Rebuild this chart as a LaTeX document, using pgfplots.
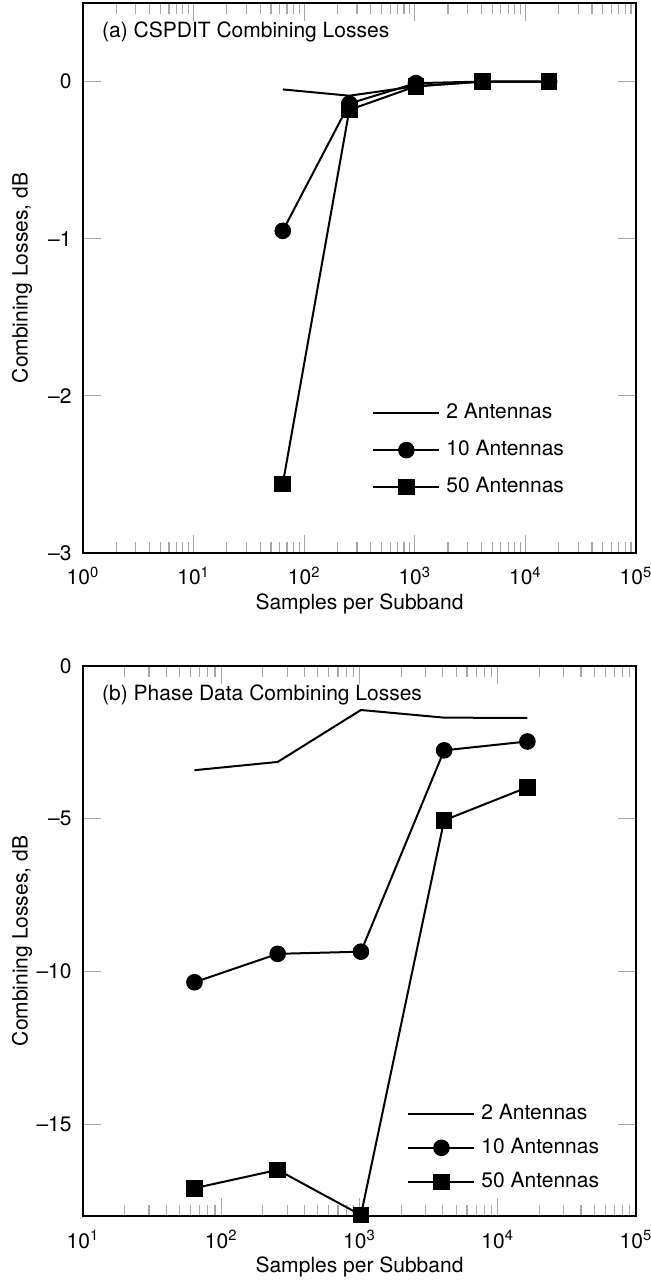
\documentclass[border=0pt]{standalone}
\usepackage{fontspec}
\setmainfont{TeX Gyre Heros}
\usepackage{pgfplots}
\pgfplotsset{compat=1.18}
\begin{document}
\fontsize{10.5}{12.6}\selectfont
\begin{tikzpicture}
\begin{axis}[xmode=log, scale only axis, width=276.5pt, height=275pt,
  at={(0pt,0pt)}, anchor=south west,
  axis line style={line width=1pt},
  tick style={color=gray!70, line width=0.6pt},
  major tick length=9pt, minor tick length=5.5pt,
  tick align=inside,
  xlabel={Samples per Subband},
  ylabel={Combining Losses, dB},
  ylabel style={at={(axis description cs:-0.110,0.5)}, anchor=center},
  xlabel style={at={(axis description cs:0.5,-0.0927)}, anchor=center},
  xticklabel style={anchor=base, yshift=-16pt},
  yticklabel style={xshift=-2pt},
  legend cell align=left,
  legend image code/.code={\draw[mark repeat=2,mark phase=2] plot coordinates {(0pt,0pt) (16.5pt,0pt) (33pt,0pt)};},
  xmin=1, xmax=1e5, ymin=-3, ymax=0.5,
  ytick={-3,-2,-1,0}, yticklabels={–3,–2,–1,0},
  xtick={1,10,100,1000,10000,100000},
  xticklabels={10\textsuperscript{0},10\textsuperscript{1},10\textsuperscript{2},10\textsuperscript{3},10\textsuperscript{4},10\textsuperscript{5}},
  legend style={draw=none, fill=none, inner sep=0pt, column sep=3pt, row sep=8pt,
    nodes={inner sep=0pt, text height=8pt, text depth=2.5pt},
    at={(0.5226,0.187)}, anchor=west}]
\addplot[black, line width=1pt] coordinates {(64,-0.05) (256,-0.09) (1024,-0.03) (4096,0) (16384,0)};
\addlegendentry{2 Antennas}
\addplot[black, line width=1pt, mark=*, mark size=3.9pt, mark options={line width=0.5pt}] coordinates {(64,-0.95) (256,-0.14) (1024,-0.01) (4096,0) (16384,0)};
\addlegendentry{10 Antennas}
\addplot[black, line width=1pt, mark=square*, mark size=3.9pt, mark options={line width=0.5pt}] coordinates {(64,-2.56) (256,-0.18) (1024,-0.03) (4096,0) (16384,0)};
\addlegendentry{50 Antennas}
\node[anchor=west, inner sep=0pt] at (rel axis cs:0.034,0.947) {(a) CSPDIT Combining Losses};
\end{axis}
\begin{axis}[xmode=log, scale only axis, width=276.5pt, height=275pt,
  at={(0pt,-331.5pt)}, anchor=south west,
  axis line style={line width=1pt},
  tick style={color=gray!70, line width=0.6pt},
  major tick length=9pt, minor tick length=5.5pt,
  tick align=inside,
  xlabel={Samples per Subband},
  ylabel={Combining Losses, dB},
  ylabel style={at={(axis description cs:-0.110,0.5)}, anchor=center},
  xlabel style={at={(axis description cs:0.5,-0.0927)}, anchor=center},
  xticklabel style={anchor=base, yshift=-16pt},
  yticklabel style={xshift=-2pt},
  legend cell align=left,
  legend image code/.code={\draw[mark repeat=2,mark phase=2] plot coordinates {(0pt,0pt) (16.5pt,0pt) (33pt,0pt)};},
  xmin=10, xmax=1e5, ymin=-18, ymax=0,
  ytick={-15,-10,-5,0}, yticklabels={–15,–10,–5,0},
  xtick={10,100,1000,10000,100000},
  xticklabels={10\textsuperscript{1},10\textsuperscript{2},10\textsuperscript{3},10\textsuperscript{4},10\textsuperscript{5}},
  legend style={draw=none, fill=none, inner sep=0pt, column sep=3pt, row sep=6.5pt,
    nodes={inner sep=0pt, text height=8pt, text depth=2.5pt},
    at={(0.586,0.124)}, anchor=west}]
\addplot[black, line width=1pt] coordinates {(64,-3.41) (256,-3.14) (1024,-1.44) (4096,-1.69) (16384,-1.70)};
\addlegendentry{2 Antennas}
\addplot[black, line width=1pt, mark=*, mark size=3.9pt, mark options={line width=0.5pt}] coordinates {(64,-10.35) (256,-9.42) (1024,-9.35) (4096,-2.76) (16384,-2.47)};
\addlegendentry{10 Antennas}
\addplot[black, line width=1pt, mark=square*, mark size=3.9pt, mark options={line width=0.5pt}] coordinates {(64,-17.09) (256,-16.49) (1024,-17.97) (4096,-5.05) (16384,-3.97)};
\addlegendentry{50 Antennas}
\node[anchor=west, inner sep=0pt] at (rel axis cs:0.034,0.947) {(b) Phase Data Combining Losses};
\end{axis}
\pgfresetboundingbox
\path[use as bounding box] (-41.5pt,276.5pt) rectangle (283.5pt,-366pt);
\end{tikzpicture}
\end{document}
